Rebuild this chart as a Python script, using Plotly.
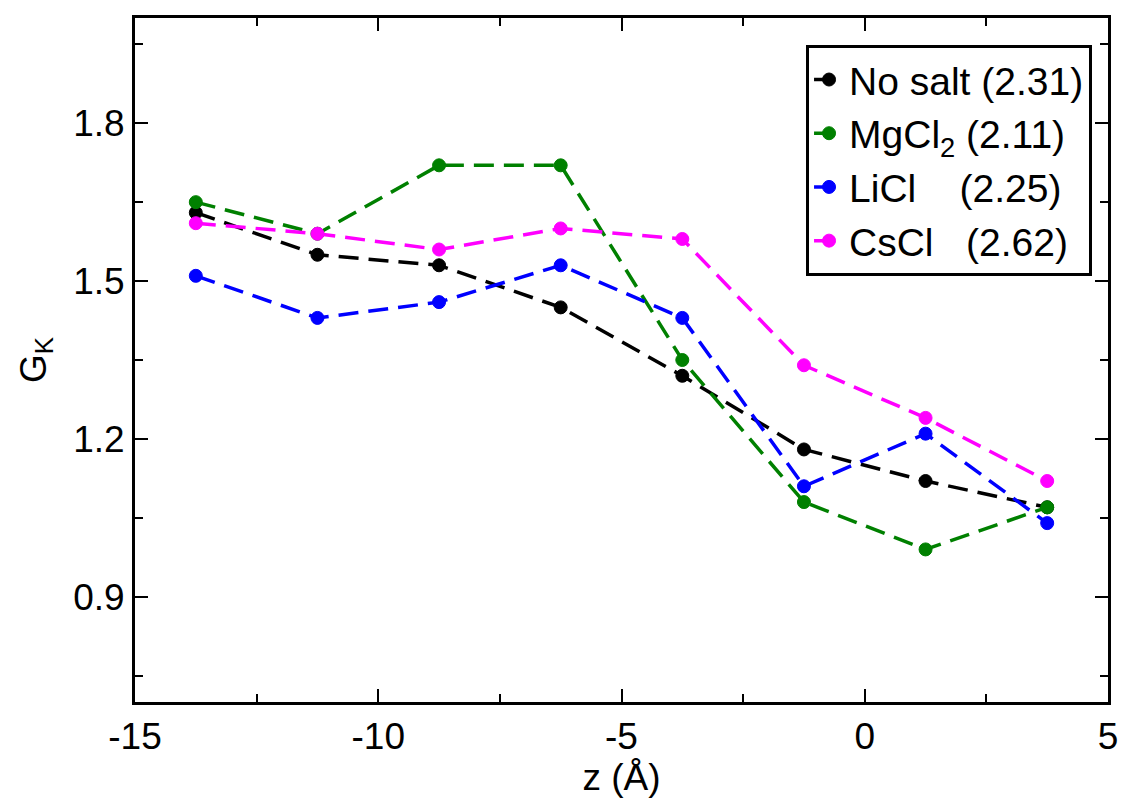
import plotly.graph_objects as go

z = [-13.75, -11.25, -8.75, -6.25, -3.75, -1.25, 1.25, 3.75]
no_salt = [1.63, 1.55, 1.53, 1.45, 1.32, 1.18, 1.12, 1.07]
mgcl2 = [1.65, 1.59, 1.72, 1.72, 1.35, 1.08, 0.99, 1.07]
licl = [1.51, 1.43, 1.46, 1.53, 1.43, 1.11, 1.21, 1.04]
cscl = [1.61, 1.59, 1.56, 1.60, 1.58, 1.34, 1.24, 1.12]

x_tickvals = [-15, -10, -5, 0, 5]
x_ticktext = ["-15", "-10", "-5", "0", "5"]
y_tickvals = [0.9, 1.2, 1.5, 1.8]
y_ticktext = ["0.9", "1.2", "1.5", "1.8"]

names = ["No salt (2.31)", "MgCl<sub>2</sub> (2.11)",
         "LiCl\u00a0\u00a0\u00a0\u00a0(2.25)", "CsCl\u00a0\u00a0\u00a0(2.62)"]
colors = ["#000000", "#008000", "#0000ff", "#ff00ff"]
series = [no_salt, mgcl2, licl, cscl]

fig = go.Figure()
for name, col, ys in zip(names, colors, series):
    fig.add_trace(go.Scatter(
        x=z, y=ys, name=name, mode="lines+markers",
        line=dict(color=col, width=3.5, dash="20px,10px"),
        marker=dict(color=col, size=13, symbol="circle",
                    line=dict(color=col, width=1)),
    ))

font = dict(family="Liberation Sans, Arial, Helvetica, sans-serif", size=37, color="black")
legend_font = dict(family="Liberation Sans, Arial, Helvetica, sans-serif", size=39, color="black")

# page has an 8px body margin, so the figure is sized/margined to land the plot area
fig.update_layout(
    width=1122, height=792,
    margin=dict(l=127, r=22, t=7, b=98),
    paper_bgcolor="white", plot_bgcolor="white",
    font=font,
    showlegend=True,
    legend=dict(x=0.9836, y=0.961, xanchor="right", yanchor="top",
                bgcolor="white", bordercolor="black", borderwidth=3,
                font=legend_font, itemwidth=30, tracegroupgap=0),
)
fig.update_xaxes(
    range=[-15, 5], tickmode="array", tickvals=x_tickvals, ticktext=x_ticktext,
    ticks="inside", ticklen=13, tickwidth=2, tickcolor="black",
    showline=True, linewidth=3, linecolor="black", mirror="allticks",
    showgrid=False, zeroline=False,
    minor=dict(ticks="inside", ticklen=8, tickwidth=2, tickcolor="black", dtick=2.5, tick0=-15, showgrid=False),
    title=dict(text="z (Å)", font=font, standoff=2),
    tickfont=font,
)
fig.update_yaxes(
    range=[0.7, 2.0], tickmode="array", tickvals=y_tickvals, ticktext=y_ticktext,
    ticks="inside", ticklen=13, tickwidth=2, tickcolor="black",
    showline=True, linewidth=3, linecolor="black", mirror="allticks",
    showgrid=False, zeroline=False,
    minor=dict(ticks="inside", ticklen=8, tickwidth=2, tickcolor="black", dtick=0.3, tick0=0.75, showgrid=False),
    title=dict(text="G<sub>K</sub>", font=font, standoff=16),
    tickfont=font,
)
fig.write_html("out.html")
